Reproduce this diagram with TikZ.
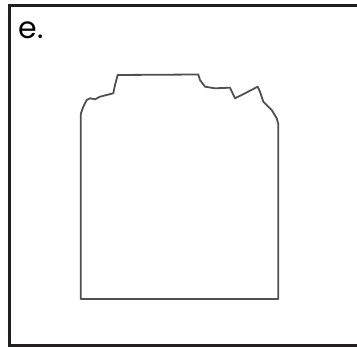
\documentclass[tikz,border=0pt]{standalone}
\usepackage{fontspec}
\setmainfont{Poppins}
\begin{document}
\begin{tikzpicture}[x=1pt,y=-1pt,
  frame/.style={draw={rgb,255:red,35;green,31;blue,32},line width=3pt},
  outline/.style={draw={rgb,255:red,80;green,80;blue,80},line width=1.8pt,line join=round}]
\useasboundingbox (0,0) rectangle (357,347);
\draw[frame] (357,6) -- (9.5,6) -- (9.5,345.8) -- (357,345.8);
\node[anchor=base west,inner sep=0pt,font=\fontsize{30}{34}\selectfont] (lbl) at (18.5,38.5) {e.};
\draw[outline] (80.7,299) -- (80.7,115) -- (81,113.3) -- (83.3,106.7) -- (86.7,100) -- (90,98.3)
  -- (95,99.3) -- (100,96.7) -- (106.7,95) -- (113.3,93.3) -- (115,85) -- (117.7,75)
  -- (198.3,74.5) -- (200,80) -- (205,86.7) -- (215,88.3) -- (230,87.7) -- (235,98.3)
  -- (245,93.3) -- (257.7,86.7) -- (260,91.7) -- (263.3,101.7) -- (271.7,110) -- (276.7,118.3)
  -- (278.3,124) -- (278.3,299) -- cycle;
\end{tikzpicture}
\end{document}
